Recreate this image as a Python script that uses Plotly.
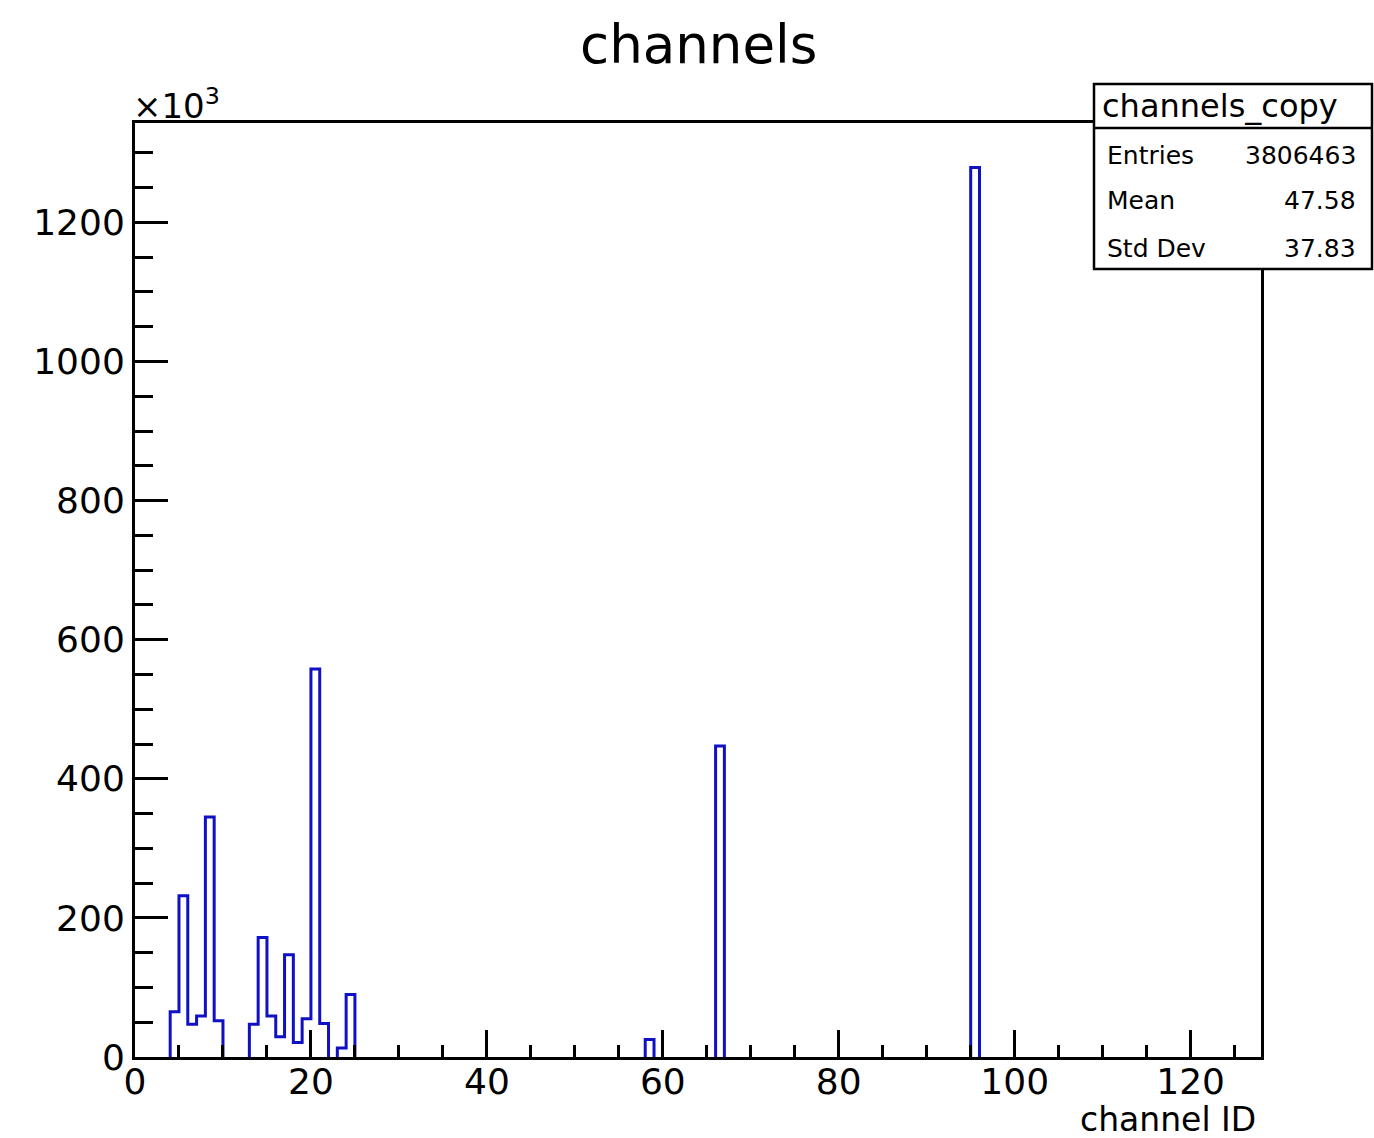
import plotly.graph_objects as go

# ---- data (counts in units of 10^3) ----
n_bins = 128
x_min, x_max = 0, 128
channel_ids = [4, 5, 6, 7, 8, 9, 13, 14, 15, 16, 17, 18, 19, 20, 21, 22, 23, 24, 58, 66, 95]
counts_k = [65, 232, 47, 59, 345, 52, 47, 172, 59, 29, 147, 21, 55, 558, 48, 0, 13, 90, 25, 447, 1279]
x_tick_vals = [0, 20, 40, 60, 80, 100, 120]
y_tick_vals = [0, 200, 400, 600, 800, 1000, 1200]
title_text = "channels"
x_title = "channel ID"
stats_name = "channels_copy"
stats_labels = ["Entries", "Mean", "Std Dev"]
stats_values = ["3806463", "47.58", "37.83"]

# full histogram content
contents = [0.0] * n_bins
for c, v in zip(channel_ids, counts_k):
    contents[c] = v
bw = (x_max - x_min) / n_bins
y_max = 1.05 * max(contents)

# step outline (ROOT-like), broken where the content is zero (baseline hidden by the axis)
xs, ys = [], []
i = 0
while i < n_bins:
    if contents[i] > 0:
        s = i
        while i < n_bins and contents[i] > 0:
            i += 1
        e = i
        xs += [x_min + s * bw] + [x_min + k * bw for k in range(s, e)] + [x_min + e * bw, None]
        ys += [0.0] + [contents[k] for k in range(s, e)] + [0.0, None]
    else:
        i += 1

W, H = 1374, 1138
L, R, T, B = 135, 1261, 123, 1057
FONT = "DejaVu Sans"
BLUE = "#1010c4"

def px(xp):
    return (xp - L) / (R - L)

def py(yp):
    return (B - yp) / (B - T)

fig = go.Figure()
fig.add_trace(go.Scatter(
    x=xs, y=ys, mode="lines", line=dict(color=BLUE, width=3, shape="hv"),
    connectgaps=False, hoverinfo="skip", showlegend=False,
))

fig.update_layout(
    width=W, height=H,
    margin=dict(l=L, r=W - R, t=T, b=H - B, pad=0),
    paper_bgcolor="white", plot_bgcolor="white",
    font=dict(family=FONT, color="black", size=36),
    showlegend=False,
)
fig.update_xaxes(
    range=[x_min, x_max], tickvals=x_tick_vals, ticks="inside", ticklen=27, tickwidth=3,
    tickcolor="black", showgrid=False, zeroline=False, showline=True, linecolor="black",
    linewidth=3, mirror=True, tickfont=dict(size=36, family=FONT), layer="above traces",
    ticklabelstandoff=-9,
    minor=dict(dtick=5, ticks="inside", ticklen=12, tickwidth=3, tickcolor="black", showgrid=False),
)
fig.update_yaxes(
    range=[0, y_max], tickvals=y_tick_vals, ticks="inside", ticklen=33, tickwidth=3,
    tickcolor="black", showgrid=False, zeroline=False, showline=True, linecolor="black",
    linewidth=3, mirror=True, tickfont=dict(size=36, family=FONT), layer="above traces",
    minor=dict(dtick=50, ticks="inside", ticklen=18, tickwidth=3, tickcolor="black", showgrid=False),
)

ann = []
ann.append(dict(text=title_text, x=px(698), y=py(44), xref="paper", yref="paper",
                xanchor="center", yanchor="middle", showarrow=False,
                font=dict(size=53, family=FONT)))
ann.append(dict(text="×10<sup>3</sup>", x=px(131), y=py(104), xref="paper", yref="paper",
                xanchor="left", yanchor="middle", showarrow=False,
                font=dict(size=34, family=FONT)))
ann.append(dict(text=x_title, x=px(1258), y=py(1119), xref="paper", yref="paper",
                xanchor="right", yanchor="middle", showarrow=False,
                font=dict(size=33, family=FONT)))

# stats box
bx0, bx1, by0, by1, bh = 1094, 1372, 84, 269, 128
shapes = [
    dict(type="rect", xref="paper", yref="paper", x0=px(bx0), x1=px(bx1), y0=py(by1), y1=py(by0),
         line=dict(color="black", width=2.5), fillcolor="white", layer="above"),
    dict(type="line", xref="paper", yref="paper", x0=px(bx0), x1=px(bx1), y0=py(bh), y1=py(bh),
         line=dict(color="black", width=2.5), layer="above"),
]
ann.append(dict(text=stats_name, x=px(1100), y=py(106), xref="paper", yref="paper",
                xanchor="left", yanchor="middle", showarrow=False,
                font=dict(size=32, family=FONT)))
row_y = [155, 201, 248]
for lab, val, yy in zip(stats_labels, stats_values, row_y):
    ann.append(dict(text=lab, x=px(1105), y=py(yy), xref="paper", yref="paper",
                    xanchor="left", yanchor="middle", showarrow=False,
                    font=dict(size=25, family=FONT)))
    ann.append(dict(text=val, x=px(1358), y=py(yy), xref="paper", yref="paper",
                    xanchor="right", yanchor="middle", showarrow=False,
                    font=dict(size=25, family=FONT)))

fig.update_layout(annotations=ann, shapes=shapes)
fig.write_html("out.html")
